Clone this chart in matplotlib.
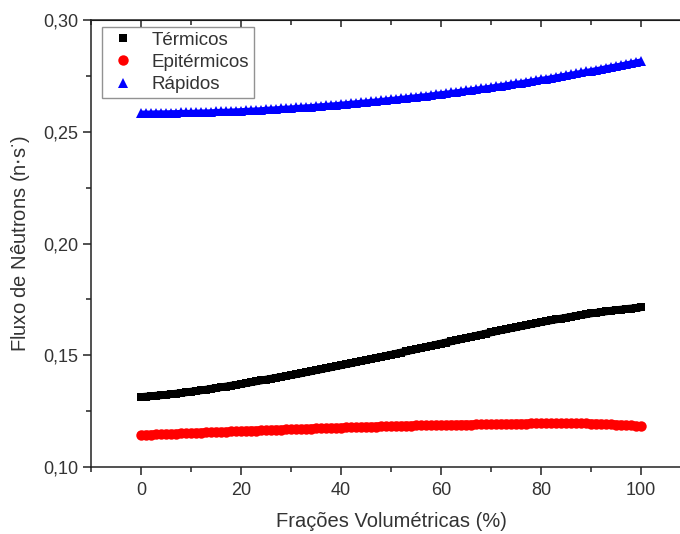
import matplotlib
matplotlib.use("Agg")
import matplotlib.pyplot as plt
from matplotlib.ticker import MultipleLocator, FuncFormatter

plt.rcParams["font.family"] = ["Liberation Sans", "DejaVu Sans"]

# fração volumétrica (%) e fluxos por grupo de energia
fracoes = [
    0, 1, 2, 3, 4, 5, 6, 7, 8, 9, 10, 11, 12, 13, 14, 15, 16, 17, 18, 19, 20,
    21, 22, 23, 24, 25, 26, 27, 28, 29, 30, 31, 32, 33, 34, 35, 36, 37, 38, 39, 40,
    41, 42, 43, 44, 45, 46, 47, 48, 49, 50, 51, 52, 53, 54, 55, 56, 57, 58, 59, 60,
    61, 62, 63, 64, 65, 66, 67, 68, 69, 70, 71, 72, 73, 74, 75, 76, 77, 78, 79, 80,
    81, 82, 83, 84, 85, 86, 87, 88, 89, 90, 91, 92, 93, 94, 95, 96, 97, 98, 99, 100,
]

termicos = [
    0.1313, 0.1315, 0.1317, 0.1319, 0.1321, 0.1323, 0.1326, 0.1328, 0.1331, 0.1334, 0.1337,
    0.1340, 0.1343, 0.1346, 0.1350, 0.1353, 0.1357, 0.1360, 0.1364, 0.1367, 0.1371,
    0.1375, 0.1379, 0.1383, 0.1387, 0.1391, 0.1395, 0.1399, 0.1403, 0.1407, 0.1411,
    0.1415, 0.1419, 0.1424, 0.1428, 0.1433, 0.1437, 0.1442, 0.1446, 0.1451, 0.1455,
    0.1460, 0.1464, 0.1469, 0.1474, 0.1478, 0.1483, 0.1488, 0.1492, 0.1497, 0.1502,
    0.1507, 0.1512, 0.1517, 0.1522, 0.1527, 0.1532, 0.1537, 0.1542, 0.1547, 0.1552,
    0.1557, 0.1562, 0.1567, 0.1572, 0.1577, 0.1582, 0.1587, 0.1592, 0.1597, 0.1602,
    0.1607, 0.1612, 0.1616, 0.1621, 0.1625, 0.1630, 0.1634, 0.1639, 0.1643, 0.1648,
    0.1652, 0.1656, 0.1660, 0.1664, 0.1668, 0.1672, 0.1676, 0.1680, 0.1683, 0.1687,
    0.1690, 0.1693, 0.1696, 0.1699, 0.1702, 0.1704, 0.1707, 0.1709, 0.1712, 0.1714,
]

epitermicos = [
    0.1143, 0.1144, 0.1145, 0.1146, 0.1147, 0.1148, 0.1148, 0.1149, 0.1150, 0.1151, 0.1152,
    0.1153, 0.1154, 0.1155, 0.1156, 0.1157, 0.1157, 0.1158, 0.1159, 0.1160, 0.1161,
    0.1162, 0.1163, 0.1163, 0.1164, 0.1165, 0.1166, 0.1167, 0.1167, 0.1168, 0.1169,
    0.1170, 0.1170, 0.1171, 0.1172, 0.1173, 0.1173, 0.1174, 0.1175, 0.1175, 0.1176,
    0.1177, 0.1178, 0.1178, 0.1179, 0.1180, 0.1180, 0.1181, 0.1182, 0.1182, 0.1183,
    0.1184, 0.1184, 0.1185, 0.1185, 0.1186, 0.1186, 0.1187, 0.1187, 0.1188, 0.1188,
    0.1188, 0.1189, 0.1189, 0.1190, 0.1190, 0.1190, 0.1191, 0.1191, 0.1192, 0.1192,
    0.1192, 0.1193, 0.1193, 0.1193, 0.1194, 0.1194, 0.1194, 0.1195, 0.1195, 0.1195,
    0.1195, 0.1196, 0.1196, 0.1196, 0.1196, 0.1196, 0.1196, 0.1195, 0.1195, 0.1194,
    0.1194, 0.1193, 0.1192, 0.1191, 0.1190, 0.1189, 0.1188, 0.1186, 0.1184, 0.1182,
]

rapidos = [
    0.2584, 0.2584, 0.2584, 0.2585, 0.2585, 0.2585, 0.2586, 0.2586, 0.2587, 0.2587, 0.2587,
    0.2588, 0.2589, 0.2589, 0.2590, 0.2591, 0.2592, 0.2592, 0.2593, 0.2594, 0.2595,
    0.2596, 0.2597, 0.2598, 0.2599, 0.2601, 0.2602, 0.2603, 0.2605, 0.2606, 0.2607,
    0.2609, 0.2610, 0.2612, 0.2613, 0.2615, 0.2617, 0.2618, 0.2620, 0.2622, 0.2624,
    0.2626, 0.2628, 0.2630, 0.2632, 0.2634, 0.2636, 0.2638, 0.2640, 0.2643, 0.2645,
    0.2647, 0.2650, 0.2652, 0.2655, 0.2657, 0.2660, 0.2662, 0.2665, 0.2668, 0.2671,
    0.2673, 0.2676, 0.2679, 0.2682, 0.2685, 0.2688, 0.2691, 0.2694, 0.2697, 0.2700,
    0.2704, 0.2707, 0.2710, 0.2714, 0.2717, 0.2720, 0.2724, 0.2727, 0.2731, 0.2735,
    0.2738, 0.2742, 0.2746, 0.2750, 0.2754, 0.2758, 0.2762, 0.2766, 0.2770, 0.2774,
    0.2778, 0.2782, 0.2787, 0.2791, 0.2795, 0.2799, 0.2804, 0.2808, 0.2813, 0.2817,
]

fig = plt.figure(figsize=(6.8, 5.34), dpi=100)
# o quadro do gráfico passa um pouco da borda direita
ax = fig.add_axes([0.134, 0.1255, 0.882, 0.837])

# pontos densos: uma faixa contínua por baixo dos marcadores
ax.plot(fracoes, termicos, "-", color="black", lw=5.6, solid_capstyle="butt")
ax.plot(fracoes, epitermicos, "-", color="red", lw=6.0, solid_capstyle="round")
ax.plot(fracoes, rapidos, "-", color="blue", lw=3.5, solid_capstyle="butt")
ax.plot(fracoes, termicos, "s", color="black", ms=6.2, mew=0, label="Térmicos")
ax.plot(fracoes, epitermicos, "o", color="red", ms=7.5, mew=0, label="Epitérmicos")
ax.plot(fracoes, rapidos, "^", color="blue", ms=7.5, mew=0, label="Rápidos")

ax.set_xlim(-10, 110)
ax.set_ylim(0.10, 0.30)
ax.xaxis.set_major_locator(MultipleLocator(20))
ax.xaxis.set_minor_locator(MultipleLocator(10))
ax.yaxis.set_major_locator(MultipleLocator(0.05))
ax.yaxis.set_minor_locator(MultipleLocator(0.025))
ax.yaxis.set_major_formatter(FuncFormatter(lambda v, p: f"{v:.2f}".replace(".", ",")))

txt = "#333333"
for s in ax.spines.values():
    s.set_linewidth(1.1)
    s.set_color("#222222")
ax.tick_params(which="major", direction="out", length=6, width=1.1,
               labelsize=13, labelcolor=txt, color="#222222")
ax.tick_params(which="minor", direction="out", length=3.5, width=1.1, color="#222222")
ax.tick_params(axis="x", pad=5)

# eixos espelhados com marcações para dentro
top = ax.secondary_xaxis("top")
top.xaxis.set_major_locator(MultipleLocator(20))
top.xaxis.set_minor_locator(MultipleLocator(10))
top.tick_params(which="both", direction="in", labeltop=False, width=1.1, color="#222222")
top.tick_params(which="major", length=5)
top.tick_params(which="minor", length=3.5)
right = ax.secondary_yaxis("right")
right.yaxis.set_major_locator(MultipleLocator(0.05))
right.yaxis.set_minor_locator(MultipleLocator(0.025))
right.tick_params(which="both", direction="in", labelright=False, width=1.1, color="#222222")
right.tick_params(which="major", length=5)
right.tick_params(which="minor", length=3)

ax.set_xlabel("Frações Volumétricas (%)", fontsize=14.5, color=txt, labelpad=9)
ax.set_ylabel(r"Fluxo de Nêutrons (n$\cdot$s$^{\cdot}$)", fontsize=14.5, color=txt, labelpad=8)

leg = ax.legend(loc="upper left", bbox_to_anchor=(0.018, 0.985), fontsize=13.5,
                frameon=True, fancybox=False, edgecolor="#777777", handletextpad=0.7,
                borderpad=0.25, labelspacing=0.28, handlelength=1.7, borderaxespad=0.0)
leg.get_frame().set_linewidth(1.0)
for t in leg.get_texts():
    t.set_color(txt)

fig.savefig("out.png", dpi=100)
